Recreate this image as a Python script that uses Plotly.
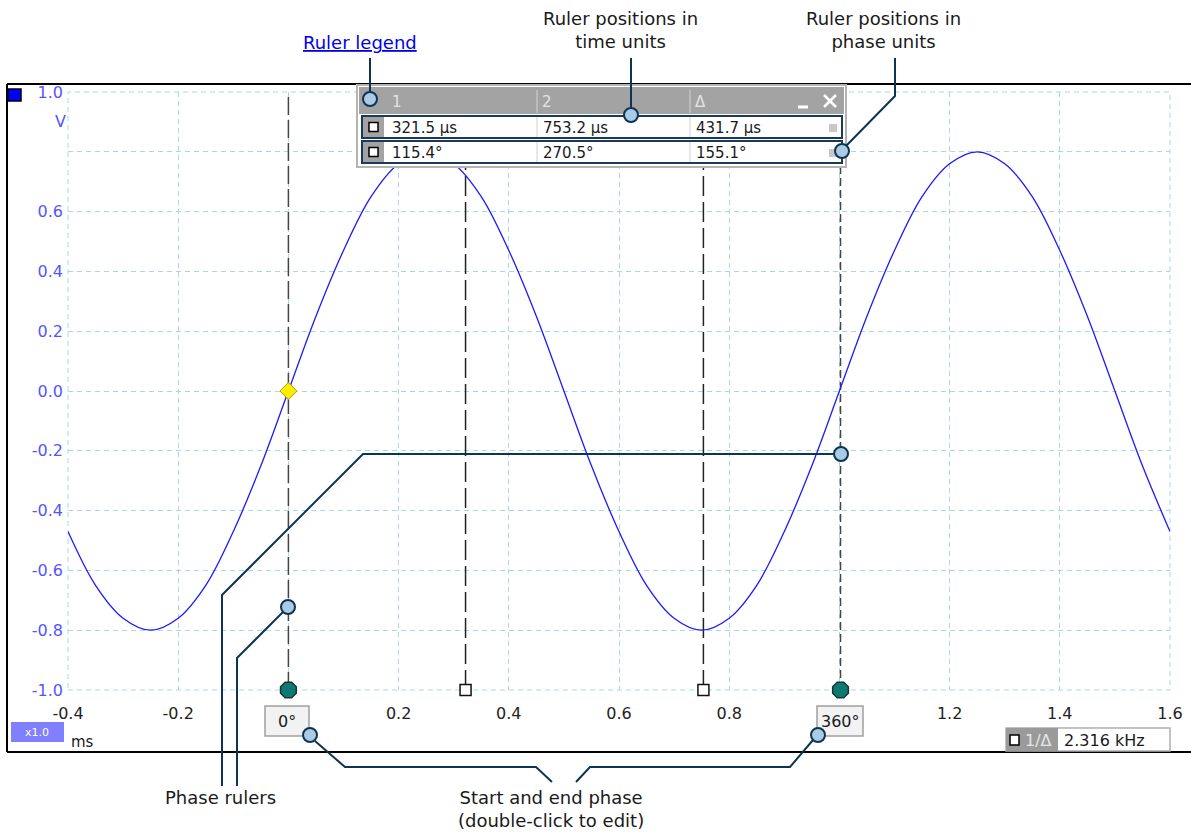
import plotly.graph_objects as go

# ---------------- data ----------------
time_ms = [-0.40, -0.35, -0.30, -0.25, -0.20, -0.15, -0.10, -0.05, 0.00, 0.05,
           0.10, 0.15, 0.20, 0.25, 0.30, 0.35, 0.40, 0.45, 0.50, 0.55,
           0.60, 0.65, 0.70, 0.75, 0.80, 0.85, 0.90, 0.95, 1.00, 1.05,
           1.10, 1.15, 1.20, 1.25, 1.30, 1.35, 1.40, 1.45, 1.50, 1.55, 1.60]
voltage_v = [-0.47, -0.65, -0.76, -0.80, -0.76, -0.65, -0.47, -0.25, 0.00, 0.25,
             0.47, 0.65, 0.76, 0.80, 0.76, 0.65, 0.47, 0.25, 0.00, -0.25,
             -0.47, -0.65, -0.76, -0.80, -0.76, -0.65, -0.47, -0.25, 0.00, 0.25,
             0.47, 0.65, 0.76, 0.80, 0.76, 0.65, 0.47, 0.25, 0.00, -0.25, -0.47]

trigger_ms = [0.0]
trigger_v = [0.0]

phase_ruler_ms = [0.0, 1.002]
phase_ruler_labels = ["0°", "360°"]
time_ruler_ms = [0.3215, 0.7532]

x_range = [-0.4, 1.6]
y_range = [-1.0, 1.0]
x_tick_vals = [-0.4, -0.2, 0.0, 0.2, 0.4, 0.6, 0.8, 1.0, 1.2, 1.4, 1.6]
x_tick_text = ["-0.4", "-0.2", "", "0.2", "0.4", "0.6", "0.8", "", "1.2", "1.4", "1.6"]
y_tick_vals = [-1.0, -0.8, -0.6, -0.4, -0.2, 0.0, 0.2, 0.4, 0.6, 0.8, 1.0]
y_tick_text = ["-1.0", "-0.8", "-0.6", "-0.4", "-0.2", "0.0", "0.2", "0.4", "0.6", "", "1.0"]

legend_header = ["1", "2", "Δ"]
legend_time_row = ["321.5 μs", "753.2 μs", "431.7 μs"]
legend_phase_row = ["115.4°", "270.5°", "155.1°"]
freq_text = "2.316 kHz"

# ---------------- helpers (page pixel -> paper) ----------------
W, H = 1191, 833
L, R, T, B = 68, 1170, 92, 690   # plot area in pixels


def px(x):
    return (x - L) / (R - L)


def py(y):
    return (B - y) / (B - T)


FONT = "DejaVu Sans"
NAVY = "#0d3552"
CIRC = "#a9cbe6"
GRID = "#a8d8e6"
TICKBLUE = "#5555ff"

shapes = []
annotations = []


def prect(x0, y0, x1, y1, fill=None, line_color=None, line_width=0, layer="above"):
    shapes.append(dict(type="rect", xref="paper", yref="paper", layer=layer,
                       x0=px(x0), x1=px(x1), y0=py(y1), y1=py(y0),
                       fillcolor=fill if fill else "rgba(0,0,0,0)",
                       line=dict(color=line_color if line_color else "rgba(0,0,0,0)",
                                 width=line_width)))


def ppath(points, color=NAVY, width=2, dash="solid"):
    d = "M " + " L ".join(f"{px(x):.5f},{py(y):.5f}" for x, y in points)
    shapes.append(dict(type="path", xref="paper", yref="paper", layer="above",
                       path=d, line=dict(color=color, width=width, dash=dash)))


def pcircle(cx, cy, r=7):
    shapes.append(dict(type="circle", xref="paper", yref="paper", layer="above",
                       x0=px(cx - r), x1=px(cx + r), y0=py(cy + r), y1=py(cy - r),
                       fillcolor=CIRC, line=dict(color=NAVY, width=2)))


def ptext(x, y, text, size=18, color="#1a1a1a", xanchor="center", yanchor="middle"):
    annotations.append(dict(x=px(x), y=py(y), xref="paper", yref="paper",
                            text=text, showarrow=False, xanchor=xanchor, yanchor=yanchor,
                            font=dict(family=FONT, size=size, color=color)))


# ---------------- figure ----------------
fig = go.Figure()
fig.add_trace(go.Scatter(x=time_ms, y=voltage_v, mode="lines",
                         line=dict(color="#1a1aff", width=1.3, shape="spline"),
                         hoverinfo="skip"))
fig.add_trace(go.Scatter(x=trigger_ms, y=trigger_v, mode="markers",
                         marker=dict(symbol="diamond", size=13, color="#ffee00",
                                     line=dict(color="#b89a00", width=1)),
                         hoverinfo="skip"))
fig.add_trace(go.Scatter(x=phase_ruler_ms, y=[y_range[0]] * len(phase_ruler_ms), mode="markers",
                         marker=dict(symbol="octagon", size=17, color="#0e7a72",
                                     line=dict(color="#163535", width=1.5)),
                         cliponaxis=False, hoverinfo="skip"))
fig.add_trace(go.Scatter(x=time_ruler_ms, y=[y_range[0]] * len(time_ruler_ms), mode="markers",
                         marker=dict(symbol="square", size=11, color="white",
                                     line=dict(color="#111111", width=1.5)),
                         cliponaxis=False, hoverinfo="skip"))

# plot-area dashed border (grid at the edges)
shapes.append(dict(type="rect", xref="paper", yref="paper", layer="below",
                   x0=0, x1=1, y0=0, y1=1,
                   line=dict(color=GRID, width=1, dash="5px,4px")))

# rulers
phase_dashes = ["18px,5px", "8px,4px"]
for t, dsh in zip(phase_ruler_ms, phase_dashes):
    shapes.append(dict(type="line", xref="x", yref="y", layer="between",
                       x0=t, x1=t, y0=y_range[0], y1=y_range[1],
                       line=dict(color="#444444", width=1.5, dash=dsh)))
for t in time_ruler_ms:
    shapes.append(dict(type="line", xref="x", yref="y", layer="between",
                       x0=t, x1=t, y0=y_range[0], y1=y_range[1],
                       line=dict(color="#222222", width=1.5, dash="20px,6px")))

# outer black frame
ppath([(7, 84), (1195, 84)], color="black", width=2)
ppath([(7, 84), (7, 752)], color="black", width=2)
ppath([(7, 752), (1195, 752)], color="black", width=2)

# blue channel square
prect(8, 89, 21, 101, fill="#0000ff", line_color="black", line_width=1.5)
ptext(60, 122, "V", size=16, color=TICKBLUE)

# x1.0 box and ms
prect(11, 722, 64, 742, fill="#8080ff")
ptext(37, 732, "x1.0", size=11, color="white")
ptext(69, 742, "ms", size=15, color="#1a1a1a", xanchor="left")

# phase boxes
for (x0, x1), lab in zip([(265, 309), (817, 863)], phase_ruler_labels):
    prect(x0, 706, x1, 736, fill="#f2f2f2", line_color="#a0a0a0", line_width=1.5)
    ptext((x0 + x1) / 2, 721, lab, size=16)

# 1/Δ box
prect(1006, 728, 1170, 751, fill="white", line_color="#b0b0b0", line_width=1.5)
prect(1006, 728, 1058, 751, fill="#9a9a9a")
prect(1010, 735, 1019, 745, fill="white", line_color="black", line_width=1.5)
ptext(1038, 740, "1/Δ", size=16, color="#e6e6e6")
ptext(1062, 740, freq_text, size=16, xanchor="left")

# ---- ruler legend table ----
prect(357, 85, 846, 167, fill="white", line_color="#b4b4b4", line_width=2)
prect(359, 87, 844, 114, fill="#a3a3a3")
col_x = [397, 547, 700]
for cx, h in zip(col_x, legend_header):
    ptext(cx, 102, h, size=15, color="#e4e4e4")
for sx in [537, 690]:
    ppath([(sx, 90), (sx, 113)], color="#d4d4d4", width=1)
# minimise / close
ppath([(798, 107), (808, 107)], color="white", width=3)
ppath([(824, 95), (836, 107)], color="white", width=2.5)
ppath([(836, 95), (824, 107)], color="white", width=2.5)

rows = [(116, 138, legend_time_row), (141, 163, legend_phase_row)]
for y0, y1, vals in rows:
    prect(362, y0, 842, y1, fill="white", line_color="#1b3a5a", line_width=2)
    prect(363, y0 + 1, 384, y1 - 1, fill="#a3a3a3")
    cy = (y0 + y1) / 2
    prect(369, cy - 4.5, 378, cy + 4.5, fill="white", line_color="black", line_width=1.5)
    for sx in [537, 690]:
        ppath([(sx, y0 + 1), (sx, y1 - 1)], color="#d0d0d0", width=1)
    for tx, v in zip([390, 541, 694], vals):
        ptext(tx, cy + 1, v, size=15, color="#1a1a1a", xanchor="left")
    prect(829, cy - 3, 837, cy + 5, fill="#c8c8c8")

# ---- callouts ----
ppath([(370, 58), (370, 92)])
ppath([(631, 58), (631, 108)])
ppath([(895, 58), (895, 96), (846, 146)])
ppath([(283, 612), (237, 658), (237, 786)])
ppath([(834, 454), (363, 454), (222, 595), (222, 786)])
ppath([(315, 741), (345, 767), (536, 767), (552, 782)])
ppath([(813, 740), (790, 767), (590, 767), (576, 782)])

for cx, cy in [(370, 99), (631, 115), (842, 151), (288, 607), (841, 454), (310, 735), (818, 735)]:
    pcircle(cx, cy)

ptext(360, 42, "<u>Ruler legend</u>", size=18, color="#0000ee")
ptext(620, 30, "Ruler positions in<br>time units", size=18)
ptext(883, 30, "Ruler positions in<br>phase units", size=18)
ptext(220, 797, "Phase rulers", size=18)
ptext(551, 809, "Start and end phase<br>(double-click to edit)", size=18)

fig.update_layout(
    width=W, height=H, autosize=False,
    margin=dict(l=L, r=W - R, t=T, b=H - B, pad=0, autoexpand=False),
    paper_bgcolor="white", plot_bgcolor="white",
    showlegend=False,
    font=dict(family=FONT),
    shapes=shapes, annotations=annotations,
    xaxis=dict(range=x_range, tickvals=x_tick_vals, ticktext=x_tick_text,
               showgrid=True, gridcolor=GRID, griddash="5px,4px", gridwidth=1,
               zeroline=False, showline=False, ticks="", automargin=False,
               tickfont=dict(family=FONT, size=16, color="#222222"),
               ticklabelstandoff=12, fixedrange=True),
    yaxis=dict(range=y_range, tickvals=y_tick_vals, ticktext=y_tick_text,
               showgrid=True, gridcolor=GRID, griddash="5px,4px", gridwidth=1,
               zeroline=False, showline=False, ticks="", automargin=False,
               tickfont=dict(family=FONT, size=16, color=TICKBLUE),
               ticklabelstandoff=4, fixedrange=True),
)

fig.write_html("out.html",
               config={"displayModeBar": False},
               post_script="document.body.style.margin='0px';"
                           "document.body.style.overflow='hidden';")
